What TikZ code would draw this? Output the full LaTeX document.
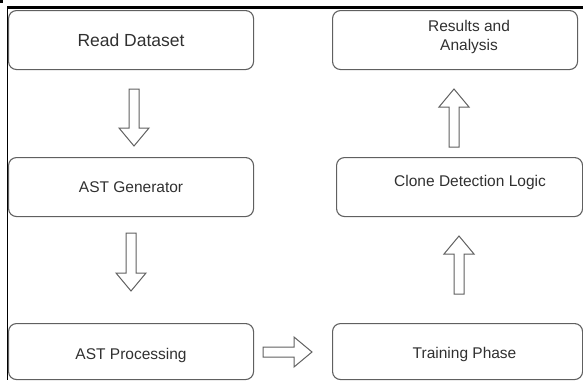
\documentclass[tikz,border=0pt]{standalone}
\usepackage{fontspec}
\setmainfont{Liberation Sans}
\usetikzlibrary{positioning,calc}
\definecolor{edge}{HTML}{606060}
\definecolor{ink}{HTML}{303030}
\tikzset{
  stage/.style={draw=edge,rounded corners=8pt,line width=1.1pt,anchor=north west,
    minimum width=245pt,minimum height=59pt,inner sep=0pt,text=ink,
    font=\fontsize{15.5}{18.5}\selectfont,text height=11pt,text depth=0pt},
  caption/.style={text=ink,align=center,font=\fontsize{15.5}{18.5}\selectfont},
  blockarrow/.style={draw=edge,line width=1pt,line join=miter},
  pics/hollow/.style={code={
    \draw[blockarrow] ({-#1/2},-5) -- ({#1/2-18},-5) -- ({#1/2-18},-15)
      -- ({#1/2},0) -- ({#1/2-18},15) -- ({#1/2-18},5) -- ({-#1/2},5) -- cycle;}}
}
\begin{document}
\begin{tikzpicture}[x=1pt,y=-1pt]
  \useasboundingbox (0,0) rectangle (583,380);
  % frame edges
  \fill (0,0) rectangle (2.5,3);
  \draw[line width=2.5pt] (7,7.5) -- (583,7.5);
  \draw[line width=1.7pt] (7.5,6.5) -- (7.5,380);

  % left column
  \node[stage,font=\fontsize{17.5}{20}\selectfont,text height=12.5pt] (read) at (8,10) {Read Dataset};
  \node[stage] (ast) at (8,157) {AST Generator};
  \node[stage,minimum height=56pt,text height=15pt] (proc) at (8,323) {AST Processing};

  % right column
  \node[stage,minimum width=250pt,minimum height=56pt,
    label={[caption,xshift=7pt,yshift=-3pt]center:Training Phase}] (train) at (332,323) {};
  \node[stage,minimum width=246pt,
    label={[caption,xshift=10.5pt,yshift=5pt]center:Clone Detection Logic}] (clone) at (336,157) {};
  \node[stage,
    label={[caption,xshift=14pt,yshift=3pt]center:Results and\\Analysis}] (result) at (332,10) {};

  % block arrows
  \pic[rotate=-90] at (134,117.5) {hollow=57};
  \pic[rotate=-90] at (131,262) {hollow=58};
  \pic at (287.5,352) {hollow=49};
  \pic[rotate=90] at (459,265) {hollow=58};
  \pic[rotate=90] at (454,118) {hollow=58};
\end{tikzpicture}
\end{document}
